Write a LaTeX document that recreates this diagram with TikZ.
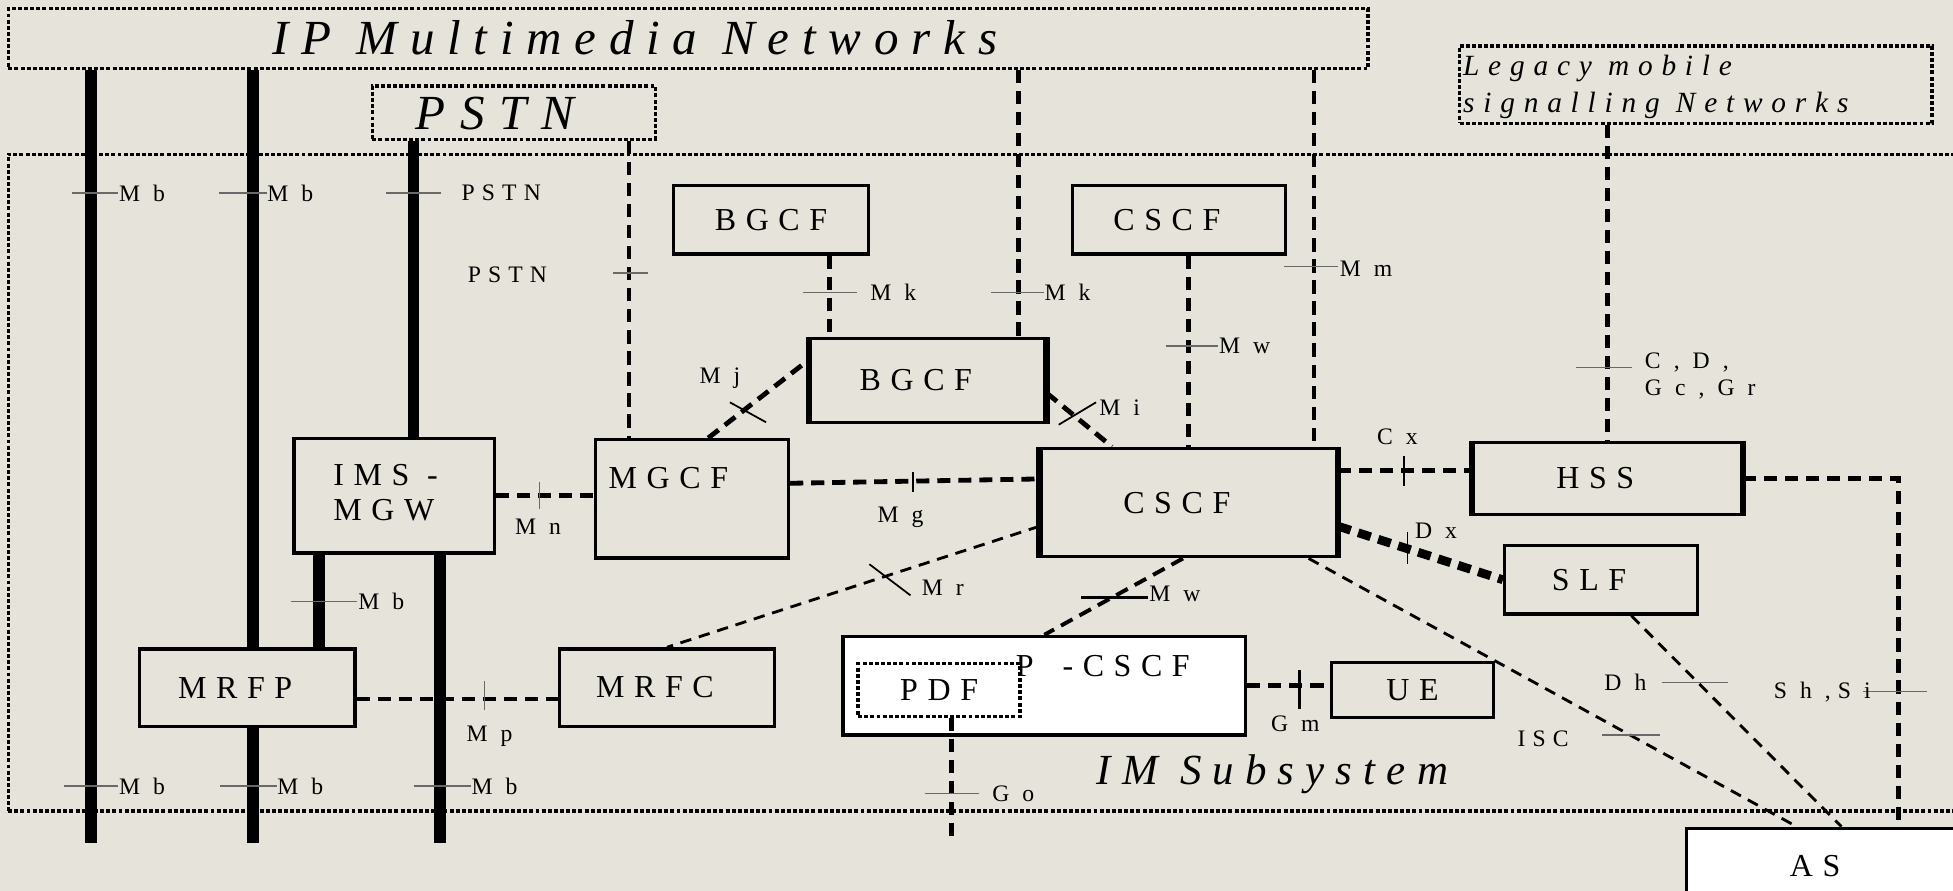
\documentclass[tikz,border=0pt]{standalone}
\usepackage{fontspec}
\setmainfont{Liberation Serif}
\newfontfamily\trk[LetterSpace=30]{Liberation Serif}
\newfontfamily\trkb[LetterSpace=26]{Liberation Serif}
\usetikzlibrary{calc}
\definecolor{paper}{RGB}{230,228,218}
\definecolor{tk}{RGB}{105,105,105}
\tikzset{
  boxtext/.style={font=\trk\fontsize{7.3}{8}\selectfont},
  box/.style 2 args={draw,line width=0.75pt,inner sep=0pt,minimum width=#1cm,minimum height=#2cm,boxtext},
  offc/.style={execute at end node=\hspace*{5.5pt}},
  net/.style 2 args={draw,line width=0.75pt,dash pattern=on 0.9pt off 0.5pt,inner sep=0pt,minimum width=#1cm,minimum height=#2cm},
  fat/.style={line width=2.7pt},
  sig/.style={line width=1.1pt,dash pattern=on 3pt off 1.8pt},
  lite/.style={line width=0.65pt,dash pattern=on 2.6pt off 1.8pt},
  tick/.style={draw=tk,line width=0.35pt},
  btick/.style={draw=black,line width=0.4pt},
  lbl/.style={font=\trk\fontsize{5.4}{6.3}\selectfont,inner sep=0pt},
  big/.style={font=\trkb\fontsize{11.2}{13}\selectfont\itshape,inner sep=0pt,anchor=base west}
}
\begin{document}
\begin{tikzpicture}[x=0.01cm,y=-0.01cm]
\useasboundingbox[fill=paper] (0,0) rectangle (1568,715);

% networks
\node[net={15.73}{5.27}] (ims) at (793.5,387.5) {};
\node[net={10.91}{0.48}] (ipnet) at (552.5,31) {};
\node[net={2.27}{0.43}] (pstn) at (412.5,90.5) {};
\node[net={3.79}{0.62}] (legacy) at (1361.5,68) {};
\node[big] (iptitle) at (218,44) {IP Multimedia Networks};
\node[big,font=\trk\fontsize{11.2}{13}\selectfont\itshape] (pstntitle) at (333,104) {PSTN};
\node[big,font=\trk\fontsize{6.7}{8}\selectfont\itshape] (leg1) at (1174,61) {Legacy mobile};
\node[big,font=\trk\fontsize{6.7}{8}\selectfont\itshape] (leg2) at (1174,90) {signalling Networks};
\node[big,font=\trkb\fontsize{9.8}{11}\selectfont\itshape] (imtitle) at (880,630) {IM Subsystem};

% functions
\node[box={1.56}{0.55}] (bgcfA) at (619,176.5) {BGCF};
\node[box={1.71}{0.55},offc] (cscfA) at (946.5,176.5) {CSCF};
\node[box={1.88}{0.67},offc] (bgcfB) at (745,305.5) {BGCF};
\node[box={1.61}{0.92}] (mgw) at (316.5,398) {};
\node[boxtext,inner sep=0pt,anchor=base west] (mgwA) at (267,390) {IMS -};
\node[boxtext,inner sep=0pt,anchor=base west] (mgwB) at (267,418) {MGW};
\node[box={1.55}{0.95}] (mgcf) at (555.5,400.5) {};
\node[boxtext,inner sep=0pt,anchor=base west] (mgcfname) at (488,392) {MGCF};
\node[box={2.37}{0.87},offc] (cscf) at (954.5,403.5) {CSCF};
\node[box={2.15}{0.58},offc] (hss) at (1290.5,384) {HSS};
\node[box={1.55}{0.55},offc] (slf) at (1285.5,465.5) {SLF};
\node[box={1.73}{0.62},offc] (mrfp) at (198.5,552) {MRFP};
\node[box={1.73}{0.62},offc] (mrfc) at (535.5,552) {MRFC};
\node[box={3.23}{0.79},fill=white] (pcscf) at (838.5,550.5) {};
\node[boxtext,inner sep=0pt,anchor=base west] (pcscfname) at (815,543) {P\hspace{0.9em}-CSCF};
\node[net={1.30}{0.42},fill=white,boxtext] (pdf) at (754,554) {PDF};
\node[box={1.30}{0.44}] (ue) at (1134,554) {UE};
\node[box={2.26}{0.60},fill=white,offc] (as) at (1467,695) {AS};
\foreach \n in {bgcfB,cscf,hss}{
  \draw[line width=1.4pt] (\n.north west) -- (\n.south west) (\n.north east) -- (\n.south east);}

% ends of the bearer and signalling lines
\coordinate (botA) at (73,677);
\coordinate (botB) at (203,677);
\coordinate (botE) at (353,677);
\coordinate (xC) at (332,0);
\coordinate (xD) at (256,0);
\coordinate (xPd) at (505,0);
\coordinate (xMk1) at (666,0);
\coordinate (xMk) at (818,0);
\coordinate (xMm) at (1055,0);
\coordinate (xSh) at (1524,0);
\coordinate (botGo) at (764,677);

% bearer
\draw[fat] (ipnet.south -| botA) -- (botA);
\draw[fat] (ipnet.south -| botB) -- (mrfp.north -| botB);
\draw[fat] (mrfp.south -| botB) -- (botB);
\draw[fat] (pstn.south -| xC) -- (mgw.north -| xC);
\draw[fat] (mgw.south -| xD) -- (mrfp.north -| xD);
\draw[fat] (mgw.south -| botE) -- (botE);

% signalling
\draw[sig] (pstn.south -| xPd) -- (mgcf.north -| xPd);
\draw[sig] (bgcfA.south -| xMk1) -- (bgcfB.north -| xMk1);
\draw[sig] (ipnet.south -| xMk) -- (bgcfB.north -| xMk);
\draw[sig] (cscfA.south -| cscf.north) -- (cscf.north);
\draw[sig] (ipnet.south -| xMm) -- (cscf.north -| xMm);
\draw[sig] (legacy.south -| hss.north) -- (hss.north);
\draw[sig] (mgcf.75) -- (bgcfB.170.6);
\draw[sig] (bgcfB.-6) -- (cscf.144.7);
\draw[sig] (mgw.east) -- (mgcf.west |- mgw.east);
\draw[sig] (mgcf.9.2) -- (cscf.171.6);
\draw[sig] (cscf.12.1) -- (hss.west |- cscf.12.1);
\draw[sig,line width=2pt] (cscf.-9.3) -- (slf.west);
\draw[lite] (cscf.189.8) -- (mrfc.north);
\draw[sig,line width=0.9pt] (cscf.264) -- (pcscf.north);
\draw[lite] (cscf.-25.2) -- (as.128.7);
\draw[lite] (slf.-50.7) -- (as.70);
\draw[sig] (hss.east) -| (as.north -| xSh);
\draw[sig] (mrfp.-6) -- (mrfc.west |- mrfp.-6);
\draw[sig] (pcscf.east) -- (ue.west |- pcscf.east);
\draw[sig] (pdf.south -| botGo) -- (botGo);

% reference points
\foreach \a/\b/\y/\n in {58/95/155/mbA, 176/214/155/mbB, 234/287/483/mbC,
    51/95/631/mbD, 177/222/631/mbE, 332/378/631/mbF}{
  \draw[tick] (\a,\y) -- (\b,\y);
  \node[lbl,anchor=west] (\n) at (\b,\y) {M b};}
\draw[tick] (310,155) -- (354,155);
\node[lbl,anchor=west] (pstnA) at (370,155) {PSTN};
\draw[tick] (492,219) -- (520,219);
\node[lbl,anchor=west] (pstnB) at (375,221) {PSTN};
\draw[tick] (645,235) -- (688,235);
\node[lbl,anchor=west] (mkA) at (698,235) {M k};
\draw[tick] (796,235) -- (838,235);
\node[lbl,anchor=west] (mkB) at (838,235) {M k};
\draw[tick] (936,278) -- (978,278);
\node[lbl,anchor=west] (mwA) at (978,278) {M w};
\draw[tick] (1031,214) -- (1074,214);
\node[lbl,anchor=west] (mm) at (1075,216) {M m};
\draw[tick] (1265,295) -- (1310,295);
\node[lbl,anchor=west,align=left] (cdgcgr) at (1320,302) {C , D ,\\G c , G r};
\draw[btick] (586,323) -- (615,339);
\node[lbl] (mj) at (578,304) {M j};
\draw[btick] (850,341) -- (880,323);
\node[lbl,anchor=west] (mi) at (882,327) {M i};
\draw[tick] (433,387) -- (433,409);
\node[lbl] (mn) at (432,423) {M n};
\draw[btick] (733,379) -- (733,395);
\node[lbl] (mg) at (723,415) {M g};
\draw[btick] (1127,366) -- (1127,390);
\node[lbl] (cx) at (1122,351) {C x};
\draw[btick] (1130,427) -- (1130,453);
\node[lbl] (dx) at (1153,426) {D x};
\draw[btick] (698,453) -- (731,478);
\node[lbl] (mr) at (757,472) {M r};
\draw[btick,line width=0.7pt] (868,480) -- (922,480);
\node[lbl,anchor=west] (mwB) at (922,477) {M w};
\draw[tick] (1286,590) -- (1333,590);
\node[lbl] (isc) at (1239,593) {ISC};
\draw[tick] (1334,548) -- (1387,548);
\node[lbl] (dh) at (1305,548) {D h};
\draw[tick] (1496,555) -- (1547,555);
\node[lbl] (shsi) at (1463,556) {S h ,S i};
\draw[tick] (389,547) -- (389,570);
\node[lbl] (mp) at (393,591) {M p};
\draw[btick,line width=0.7pt] (1043,538) -- (1043,569);
\node[lbl] (gm) at (1040,581) {G m};
\draw[tick] (743,637) -- (786,637);
\node[lbl,anchor=west] (go) at (796,637) {G o};
\end{tikzpicture}
\end{document}
